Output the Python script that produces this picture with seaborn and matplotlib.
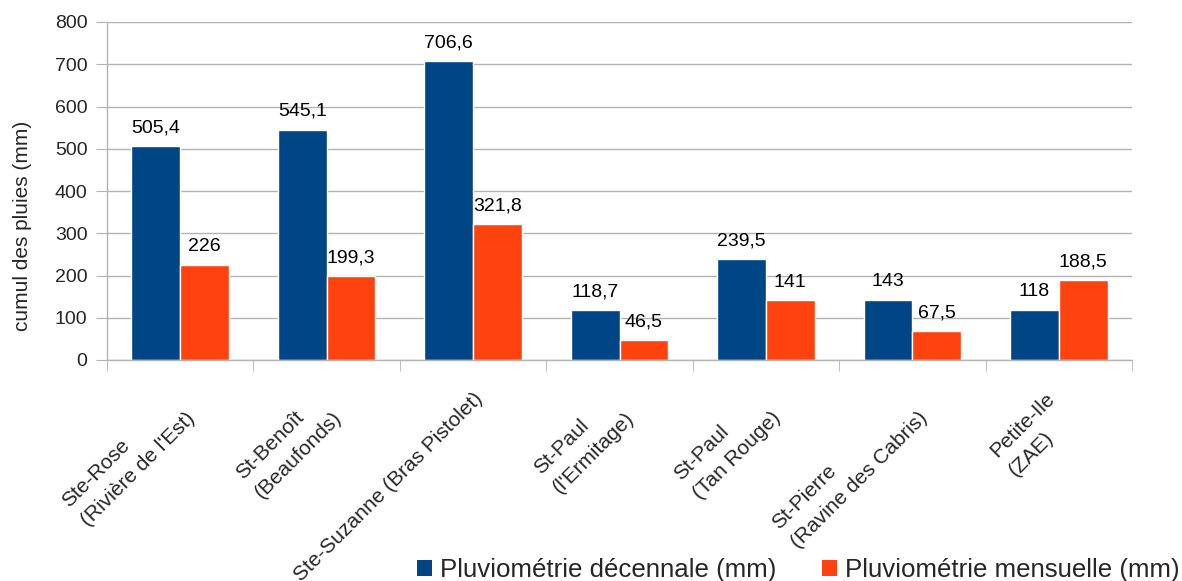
import matplotlib
matplotlib.use('Agg')
import matplotlib.pyplot as plt
import matplotlib.transforms as mtransforms
from matplotlib.patches import Patch
import seaborn as sns
import pandas as pd

# Station names (x categories) and rainfall values for each series
stations = [
    "Ste-Rose\n(Rivière de l'Est)",
    "St-Benoît\n(Beaufonds)",
    "Ste-Suzanne (Bras Pistolet)",
    "St-Paul\n(l'Ermitage)",
    "St-Paul\n(Tan Rouge)",
    "St-Pierre\n(Ravine des Cabris)",
    "Petite-Ile\n(ZAE)",
]
decennale = [505.4, 545.1, 706.6, 118.7, 239.5, 143, 118]
mensuelle = [226, 199.3, 321.8, 46.5, 141, 67.5, 188.5]
series = ["Pluviométrie décennale (mm)", "Pluviométrie mensuelle (mm)"]
colors = ["#004586", "#ff420e"]
y_ticks = [0, 100, 200, 300, 400, 500, 600, 700, 800]

sns.set_style("whitegrid")
plt.rcParams['font.family'] = ['Liberation Sans', 'DejaVu Sans']

df = pd.DataFrame({
    'station': stations * 2,
    'value': decennale + mensuelle,
    'serie': [series[0]] * len(stations) + [series[1]] * len(stations),
})

fig = plt.figure(figsize=(11.82, 5.81), dpi=100)
ax = fig.add_axes([107 / 1182, 1 - 360 / 581, (1132 - 107) / 1182, 338 / 581])

sns.barplot(data=df, x='station', y='value', hue='serie', palette=colors,
            saturation=1, width=0.667, gap=0, ax=ax, legend=False)

# values on top of the bars, with a decimal comma
for cont in ax.containers:
    labels = [f"{v:g}".replace('.', ',') for v in cont.datavalues]
    ax.bar_label(cont, labels=labels, padding=7, fontsize=14, color='black')

grid_color = '#b3b3b3'
ax.set_ylim(0, 800)
ax.set_yticks(y_ticks)
ax.set_xlim(-0.5, len(stations) - 0.5)
ax.grid(axis='x', visible=False)
ax.yaxis.grid(True, color=grid_color, linewidth=1)
ax.set_axisbelow(True)

for s in ['top', 'right']:
    ax.spines[s].set_visible(False)
for s in ['left', 'bottom']:
    ax.spines[s].set_color(grid_color)
    ax.spines[s].set_linewidth(1)

ax.tick_params(axis='y', length=8, color=grid_color, pad=6, labelsize=14, left=True)
ax.set_xticks([i - 0.5 for i in range(len(stations) + 1)], minor=True)
ax.tick_params(axis='x', which='minor', length=8, color=grid_color, bottom=True)
ax.tick_params(axis='x', which='major', length=0, pad=21, labelsize=15)

# two-line labels sit a little more to the left in the original
shift_left = mtransforms.ScaledTranslation(-0.14, 0, fig.dpi_scale_trans)
for lab in ax.get_xticklabels():
    lab.set_rotation(45)
    lab.set_ha('right')
    lab.set_va('top')
    lab.set_rotation_mode('anchor')
    lab.set_multialignment('left')
    lab.set_linespacing(1.55)
    if '\n' in lab.get_text():
        lab.set_transform(lab.get_transform() + shift_left)

ax.set_xlabel(None)
ax.set_ylabel("cumul des pluies (mm)", fontsize=15)
ax.yaxis.set_label_coords(-0.073, 0.396)

handles = [Patch(facecolor=c, edgecolor='none') for c in colors]
fig.legend(handles, series, loc='lower right', bbox_to_anchor=(1182 / 1182, -0.006),
           ncol=2, frameon=False, fontsize=18.6, handlelength=0.6, handleheight=0.6,
           handletextpad=0.3, columnspacing=1.75, borderaxespad=0, borderpad=0.1)

fig.savefig('out.png', dpi=100, facecolor='white')
plt.close(fig)
